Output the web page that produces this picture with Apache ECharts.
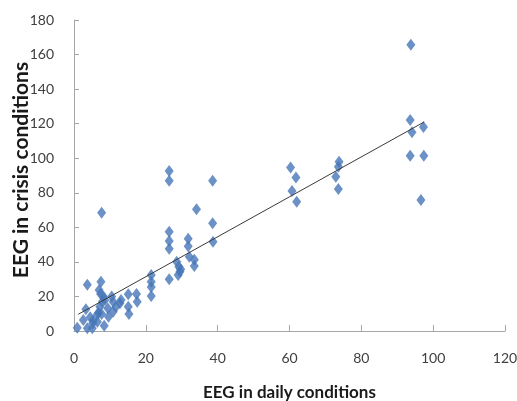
<!DOCTYPE html>
<html>
<head>
<meta charset="utf-8">
<script src="https://cdn.jsdelivr.net/npm/echarts@6/dist/echarts.min.js"></script>
<style>
    html, body { margin: 0; padding: 0; background: #fff; }
    #chart { width: 517px; height: 401px; }
</style>
</head>
<body>
<div id="chart"></div>
<script>
// EEG daily vs crisis - scatter with linear trend

const dailyEEG = [
    0.9, 3.7, 5.1, 5.2, 2.6, 4.5, 5.4, 6.5, 8.4, 3.3,
    6.6, 7.7, 6.8, 9.6, 9.4, 7.2, 7.9, 8.6, 8.2, 7.4,
    7.0, 7.5, 3.7, 7.7, 10.5, 10.9, 10.9, 11.7, 12.8, 13.1,
    15.1, 15.1, 15.3, 17.4, 17.6, 21.5, 21.5, 21.5, 21.5, 26.5,
    26.5, 26.5, 26.5, 26.5, 26.5, 28.6, 29.2, 29.7, 29.0, 29.5,
    31.8, 31.8, 32.1, 33.5, 33.5, 34.1, 38.6, 38.6, 38.7, 60.3,
    61.8, 60.7, 62.0, 73.8, 73.6, 72.9, 73.6, 93.8, 93.6, 94.1,
    97.3, 93.6, 97.4, 96.6
];

const crisisEEG = [
    1.9, 1.6, 1.6, 4.5, 6.4, 7.9, 6.4, 5.4, 3.1, 12.6,
    9.8, 9.8, 10.6, 8.3, 13.1, 14.1, 17.0, 17.9, 19.9, 21.4,
    23.7, 28.5, 26.8, 68.5, 19.9, 17.0, 11.2, 14.1, 16.0, 17.9,
    21.2, 14.1, 9.8, 21.4, 17.0, 32.4, 28.5, 25.5, 20.3, 92.6,
    87.0, 57.5, 52.1, 47.6, 29.9, 40.1, 37.2, 35.7, 32.4, 34.3,
    53.4, 49.0, 43.0, 41.3, 37.6, 70.5, 87.0, 62.3, 51.7, 94.7,
    88.9, 81.0, 74.8, 98.0, 95.1, 89.3, 82.2, 165.7, 122.1, 115.0,
    118.0, 101.5, 101.5, 75.8
];

// trend line end points
const trendX = [1.2, 97.5];
const trendY = [9.7, 121.0];

const xTicks = [0, 20, 40, 60, 80, 100, 120];
const yTicks = [0, 20, 40, 60, 80, 100, 120, 140, 160, 180];

const chart = echarts.init(document.getElementById('chart'));

const labelFont = 'Lato';
const axisGray = '#a6a6a6';

const option = {
    animation: false,
    grid: {
        left: 74,
        right: 12,
        top: 20,
        bottom: 70,
        outerBoundsMode: 'none',
        containLabel: false
    },
    xAxis: {
        type: 'value',
        min: xTicks[0],
        max: xTicks[xTicks.length - 1],
        interval: 20,
        name: 'EEG in daily conditions',
        nameLocation: 'middle',
        nameGap: 53,
        nameMoveOverlap: false,
        nameTextStyle: {
            fontFamily: labelFont,
            fontWeight: 'bold',
            fontSize: 17,
            color: '#1a1a1a'
        },
        axisLine: { show: true, lineStyle: { color: axisGray, width: 1 } },
        axisTick: { show: true, inside: true, length: 6, lineStyle: { color: axisGray } },
        axisLabel: {
            margin: 20,
            fontFamily: labelFont,
            fontSize: 14,
            color: '#404040'
        },
        splitLine: { show: false }
    },
    yAxis: {
        type: 'value',
        min: yTicks[0],
        max: yTicks[yTicks.length - 1],
        interval: 20,
        name: 'EEG in crisis conditions',
        nameLocation: 'middle',
        nameGap: 42,
        nameMoveOverlap: false,
        nameTextStyle: {
            fontFamily: labelFont,
            fontWeight: 'bold',
            fontSize: 21,
            color: '#1a1a1a',
            padding: [0, 0, 0, 11]
        },
        axisLine: { show: true, lineStyle: { color: axisGray, width: 1 } },
        axisTick: { show: true, inside: true, length: 5, lineStyle: { color: axisGray } },
        axisLabel: {
            margin: 20,
            fontFamily: labelFont,
            fontSize: 14,
            color: '#404040'
        },
        splitLine: { show: false }
    },
    series: [
        {
            name: 'EEG',
            type: 'scatter',
            symbol: 'diamond',
            symbolSize: [9, 12],
            itemStyle: { color: '#4676b8' },
            data: dailyEEG.map((x, i) => [x, crisisEEG[i]])
        },
        {
            name: 'Linear',
            type: 'line',
            symbol: 'none',
            lineStyle: { color: '#3a3a3a', width: 1 },
            data: trendX.map((x, i) => [x, trendY[i]]),
            z: 3
        }
    ]
};

chart.setOption(option);
</script>
</body>
</html>
